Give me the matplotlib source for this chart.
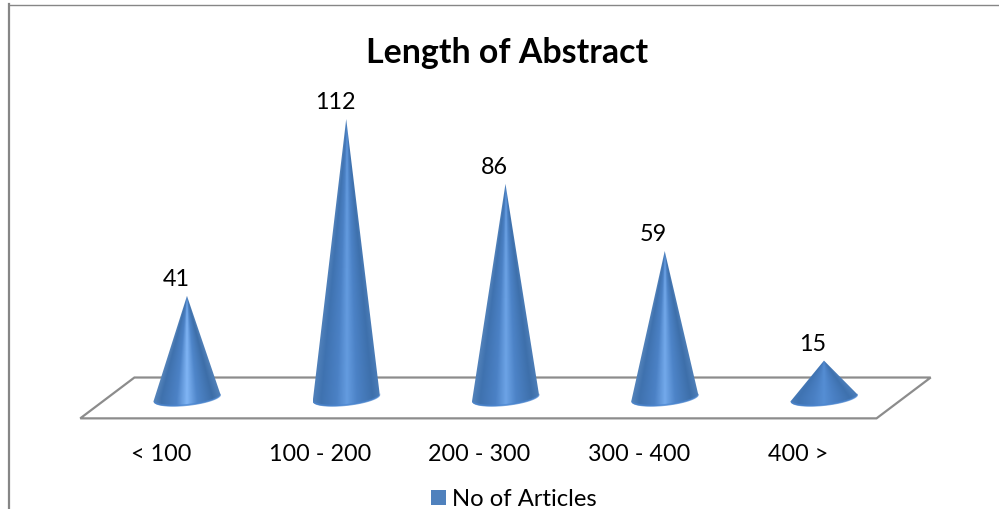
import numpy as np
import matplotlib
matplotlib.use("Agg")
import matplotlib.pyplot as plt
from matplotlib.colors import LinearSegmentedColormap
from matplotlib.patches import PathPatch, Polygon, Rectangle
from matplotlib.path import Path

categories = ["< 100", "100 - 200", "200 - 300", "300 - 400", "400 >"]
articles = [41, 112, 86, 59, 15]
# strength of the specular band on each cone
gloss = [1.0, 0.35, 0.55, 0.7, 0.0]

plt.rcParams["font.family"] = ["Lato", "DejaVu Sans"]

fig = plt.figure(figsize=(9.99, 5.10), dpi=100)
ax = fig.add_axes([0, 0, 1, 1])
ax.axis("off")

px_x = 1 / 159.25   # one pixel in category units
px_y = 1 / 2.49     # one pixel in value units

# chart frame, only the top and left edges are visible
ax.plot([9 / 999, 1.0], [1 - 5.5 / 510, 1 - 5.5 / 510], transform=ax.transAxes, color="#868686", lw=1.0)
ax.plot([9 / 999, 9 / 999], [1 - 5 / 510, 0], transform=ax.transAxes, color="#868686", lw=1.6)

# floor of the 3d plot
skew = 0.17
depth = 8.2
floor = [(-0.5 - skew, -depth), (-0.5 + skew, depth), (4.5 + skew, depth), (4.5 - skew, -depth)]
ax.add_patch(Polygon(floor, closed=True, fill=False, ec="#8c8c8c", lw=1.6, joinstyle="miter", zorder=1))

stops = [0, 0.12, 0.35, 0.5, 0.65, 0.88, 1]
glossy = LinearSegmentedColormap.from_list(
    "glossy", list(zip(stops, ["#5a88bd", "#3f71ad", "#4c82c6", "#80b5f5", "#4f86ca", "#3d6ea8", "#5080b8"])))
flat = LinearSegmentedColormap.from_list(
    "flat", list(zip(stops, ["#4a7cb8", "#3f73b2", "#4a80c4", "#558ed4", "#4a80c4", "#3e71ae", "#4a7cb8"])))

half_w = 33.5 * px_x
tilt = 3.5 * px_y
sag = 7.5 * px_y


def base_rim(i):
    # front half of the tilted base ellipse
    t = np.linspace(np.pi, 2 * np.pi, 60)
    return i + half_w * np.cos(t), tilt * np.cos(t) + sag * np.sin(t)


for i, v in enumerate(articles):
    bx, by = base_rim(i)
    path = Path(np.column_stack([np.r_[i, bx, i], np.r_[v, by, v]]))

    # shade by the angle around the cone so the band narrows toward the apex
    xs = np.linspace(i - half_w, i + half_w, 240)
    ys = np.linspace(v, -12, 600)
    gx, gy = np.meshgrid(xs, ys)
    radius = half_w * (v - np.maximum(gy, 0)) / v
    u = np.clip((gx - i) / np.maximum(radius, 1e-6), -1, 1) / 2 + 0.5
    rgb = gloss[i] * glossy(u)[..., :3] + (1 - gloss[i]) * flat(u)[..., :3]

    im = ax.imshow(rgb, extent=[i - half_w, i + half_w, -12, v], aspect="auto", zorder=3,
                   interpolation="bilinear")
    im.set_clip_path(PathPatch(path, transform=ax.transData))

    # lighter band along the front of the base
    ax.fill_between(bx, by, by + 2.0 * px_y, color="#4b86d0", alpha=0.7, lw=0, zorder=4)

    ax.text(i - 11 * px_x, v + 17.5 * px_y, str(v), ha="center", va="center", fontsize=16.8, color="black")
    ax.text(i - 26 * px_x, -22.4, categories[i], ha="center", va="center", fontsize=16.8, color="black")

ax.set_xlim(-1.174, 5.099)
ax.set_ylim(-44.6, 160.2)

ax.text(507 / 999, 1 - 53 / 510, "Length of Abstract", transform=ax.transAxes,
        ha="center", va="center", fontsize=24.4, fontweight="bold", color="black")

# legend entry
ax.add_patch(Rectangle((431 / 999, 1 - 506 / 510), 15 / 999, 15 / 510, transform=ax.transAxes,
                       fc="#4f81bd", ec="none", clip_on=False))
ax.text(452 / 999, 1 - 499.5 / 510, "No of Articles", transform=ax.transAxes,
        ha="left", va="center", fontsize=17.2, color="black")

plt.savefig("out.png", dpi=100)
